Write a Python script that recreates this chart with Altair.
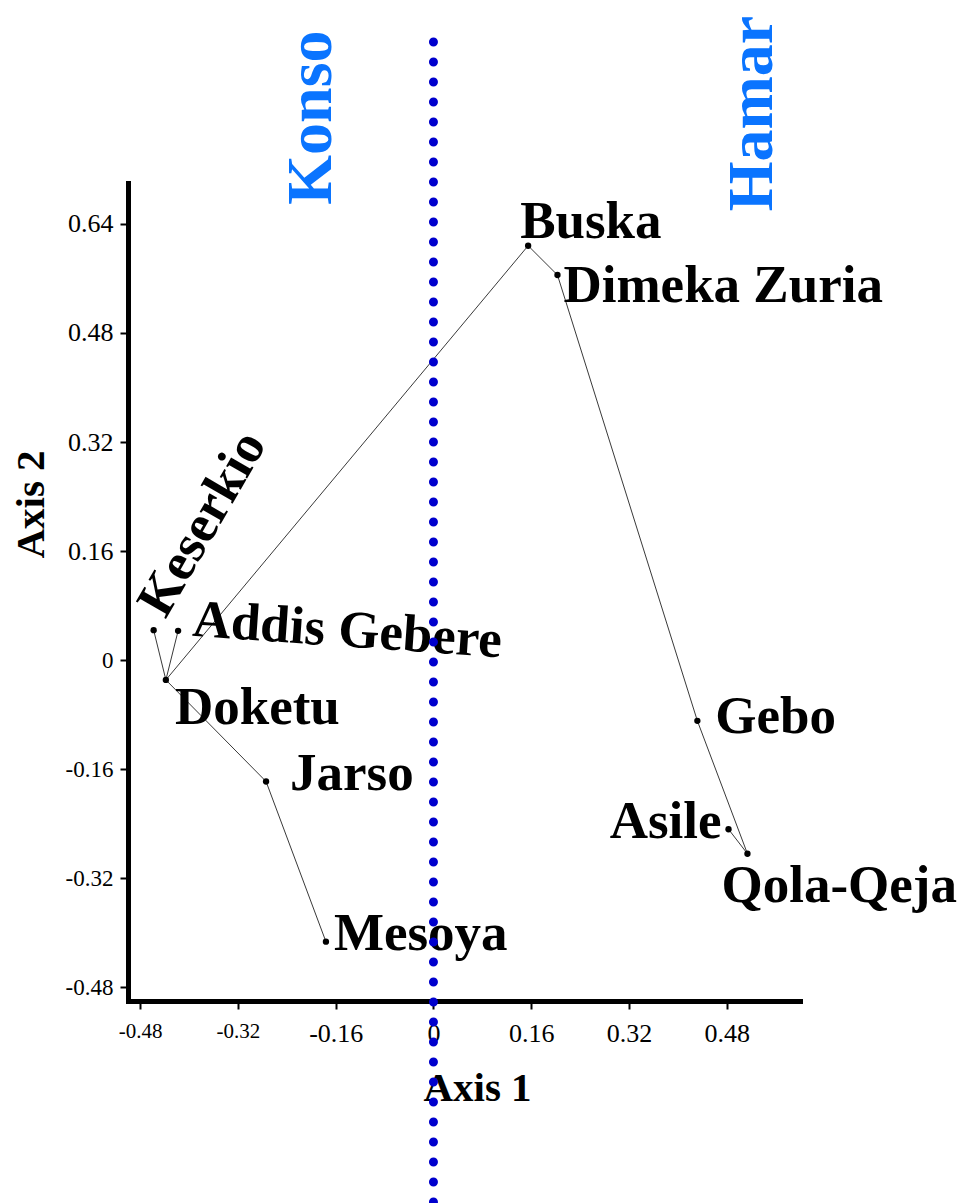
import altair as alt
import pandas as pd

# Principal coordinates of each population
names = ["Buska", "Dimeka Zuria", "Gebo", "Asile", "Qola-Qeja",
         "Keserkio", "Addis Gebere", "Doketu", "Jarso", "Mesoya"]
axis1 = [0.155, 0.203, 0.432, 0.483, 0.514, -0.458, -0.418, -0.438, -0.274, -0.176]
axis2 = [0.608, 0.565, -0.089, -0.248, -0.284, 0.044, 0.043, -0.029, -0.178, -0.413]

# Links of the network connecting the populations
edge_from = ["Keserkio", "Addis Gebere", "Doketu", "Doketu", "Jarso",
             "Buska", "Dimeka Zuria", "Gebo", "Asile"]
edge_to = ["Doketu", "Doketu", "Buska", "Jarso", "Mesoya",
           "Dimeka Zuria", "Gebo", "Qola-Qeja", "Qola-Qeja"]

# Group headings
group_names = ["Konso", "Hamar"]
group_axis1 = [-0.167, 0.554]
group_axis2 = [0.796, 0.802]

tick_values = [-0.48, -0.32, -0.16, 0, 0.16, 0.32, 0.48, 0.64]

pts = pd.DataFrame({"name": names, "a1": axis1, "a2": axis2})
pos = dict(zip(names, zip(axis1, axis2)))
edges = pd.DataFrame({
    "a1": [pos[a][0] for a in edge_from],
    "a2": [pos[a][1] for a in edge_from],
    "b1": [pos[b][0] for b in edge_to],
    "b2": [pos[b][1] for b in edge_to],
})
groups = pd.DataFrame({"name": group_names, "a1": group_axis1, "a2": group_axis2})

SERIF = "Liberation Serif"
label_expr = "datum.value == 0 ? '0' : (datum.value < 0 ? '-' : '') + format(abs(datum.value), '.2f')"

xscale = alt.Scale(domain=[-0.5, 0.6], nice=False, zero=False)
yscale = alt.Scale(domain=[-0.5, 0.7], nice=False, zero=False)

x_axis = alt.Axis(title="Axis 1", values=tick_values, labelExpr=label_expr,
                  labelPadding=11,
                  labelFontSize={"condition": {"test": "datum.value < -0.2", "value": 21}, "value": 26},
                  titleX=349, titleY=99, titleBaseline="alphabetic", titleAlign="center")
y_axis = alt.Axis(title="Axis 2", values=tick_values, labelExpr=label_expr,
                  labelPadding=7,
                  labelFontSize={"condition": {"test": "datum.value > 0.1", "value": 26}, "value": 23},
                  titleX=-85, titleY=321, titleBaseline="alphabetic",
                  titleAlign="center", titleAngle=270)

base = alt.Chart(pts)

links = alt.Chart(edges).mark_rule(color="#222222", strokeWidth=0.9).encode(
    x=alt.X("a1:Q", scale=xscale, axis=x_axis),
    y=alt.Y("a2:Q", scale=yscale, axis=y_axis),
    x2="b1:Q",
    y2="b2:Q",
)

dots = base.mark_point(filled=True, color="black", size=40, opacity=1).encode(
    x=alt.X("a1:Q", scale=xscale),
    y=alt.Y("a2:Q", scale=yscale),
)

label_style = {
    "Buska": dict(dx=-8, dy=-8),
    "Dimeka Zuria": dict(dx=6, dy=27),
    "Gebo": dict(dx=18, dy=12),
    "Asile": dict(dx=-7, dy=9, align="right"),
    "Qola-Qeja": dict(dx=-26, dy=48),
    "Keserkio": dict(dx=15, dy=5, angle=300),
    "Addis Gebere": dict(dx=14, dy=4, angle=4),
    "Doketu": dict(dx=9, dy=44),
    "Jarso": dict(dx=24, dy=8),
    "Mesoya": dict(dx=8, dy=8),
}

labels = []
for nm, st in label_style.items():
    opts = dict(align="left", baseline="alphabetic", font=SERIF, fontSize=53,
                fontWeight="bold", color="black", clip=False)
    opts.update(st)
    labels.append(
        base.transform_filter(alt.datum.name == nm).mark_text(**opts).encode(
            x=alt.X("a1:Q", scale=xscale),
            y=alt.Y("a2:Q", scale=yscale),
            text="name:N",
        )
    )

heads = alt.Chart(groups).mark_text(
    align="center", baseline="alphabetic", angle=270, font=SERIF, fontSize=64,
    fontWeight="bold", color="#0a74ff", clip=False,
).encode(
    x=alt.X("a1:Q", scale=xscale),
    y=alt.Y("a2:Q", scale=yscale),
    text="name:N",
)

divider = alt.Chart(pd.DataFrame({"a1": [0.0]})).mark_rule(
    color="#0000cd", strokeWidth=9, strokeDash=[0, 20], strokeCap="round", clip=False,
).encode(
    x=alt.X("a1:Q", scale=xscale),
    y=alt.value(-141),
    y2=alt.value(1030),
)

chart = alt.layer(links, dots, *labels, heads, divider).properties(
    width=672, height=818,
    autosize=alt.AutoSizeParams(type="none"),
    padding={"left": 128, "top": 183, "right": 164, "bottom": 202},
    background="white",
).configure_view(stroke=None).configure_axis(
    grid=False,
    domainColor="black", domainWidth=5, domainCap="square",
    tickColor="black", tickWidth=2, tickSize=8,
    labelFont=SERIF, labelColor="black",
    titleFont=SERIF, titleFontSize=41, titleFontWeight="bold", titleColor="black",
)

chart.save("out.html", embed_options={"renderer": "svg", "actions": False})
